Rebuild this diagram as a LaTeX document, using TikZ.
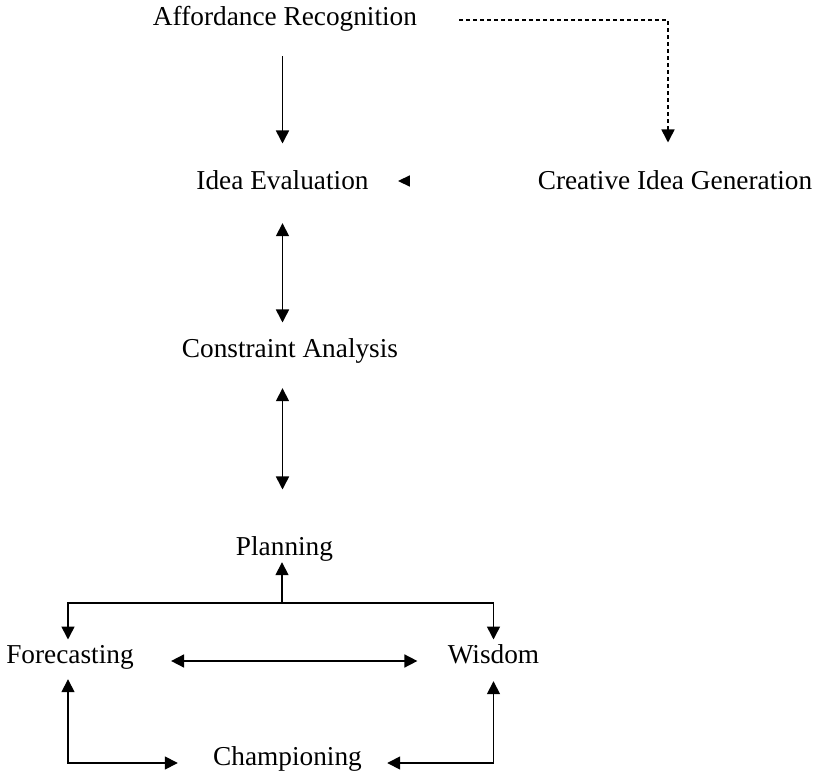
\documentclass[tikz,border=0pt]{standalone}
\usepackage{fontspec}
\setmainfont{Liberation Serif}
\usetikzlibrary{arrows.meta,calc}

\begin{document}
\begin{tikzpicture}[x=0.5pt,y=-0.5pt,
    lbl/.style={font=\fontsize{13.65pt}{16pt}\selectfont,inner sep=0pt,
        text height=9.55pt,text depth=3.4pt,anchor=base},
    link/.style={line width=0.8pt,-{Triangle[length=6.5pt,width=6.5pt]}},
    dlink/.style={line width=0.8pt,{Triangle[length=6.5pt,width=6.5pt]}-{Triangle[length=6.5pt,width=6.5pt]}}]
    \useasboundingbox (0,0) rectangle (815,775);

    \node[lbl] (afford) at (285,26) {Affordance Recognition};
    \node[lbl] (eval) at (282.5,190) {Idea Evaluation};
    \node[lbl] (create) at (675,190) {Creative Idea Generation};
    \node[lbl] (constraint) at (290,358) {Constraint Analysis};
    \node[lbl] (plan) at (284.5,555) {Planning};
    \node[lbl] (fore) at (70,663) {Forecasting};
    \node[lbl] (wis) at (493.5,663) {Wisdom};
    \node[lbl] (champ) at (287.5,765) {Championing};

    \draw[link,shorten <=11.5pt,shorten >=13.5pt] (afford.south -| eval.north) -- (eval.north);
    \draw[link,dash pattern=on 2pt off 1.5pt,shorten <=21pt,shorten >=14pt]
        (afford.east) -| ([xshift=-3.5pt]create.north);
    \coordinate (stray) at (409,181);
    \draw[line width=0.8pt,-{Triangle[length=6pt,width=5.5pt]},shorten >=14.5pt] (stray) -- (stray -| eval.east);

    \draw[dlink,shorten <=13pt,shorten >=8pt] (eval.south) -- (eval.south |- constraint.north);
    \draw[dlink,shorten <=11.5pt,shorten >=23pt] (constraint.south -| eval.south) -- (eval.south |- plan.north);

    \coordinate (split) at (282,603);
    \draw[link] (split) -- (split |- plan.south);
    \draw[link,shorten >=2pt] (split) -| ([xshift=-1pt]fore.north);
    \draw[link,shorten >=2pt] (split) -| (wis.north);

    \draw[dlink,shorten <=18.5pt,shorten >=15pt] ([yshift=1pt]fore.base east) -- ([yshift=1pt]wis.base west);
    \draw[dlink,shorten <=4.5pt,shorten >=17.5pt] ([xshift=-1pt]fore.south) |- ([yshift=1pt]champ.base west);
    \draw[dlink,shorten <=5.5pt,shorten >=12.5pt] (wis.south) |- ([yshift=1pt]champ.base east);
\end{tikzpicture}
\end{document}
